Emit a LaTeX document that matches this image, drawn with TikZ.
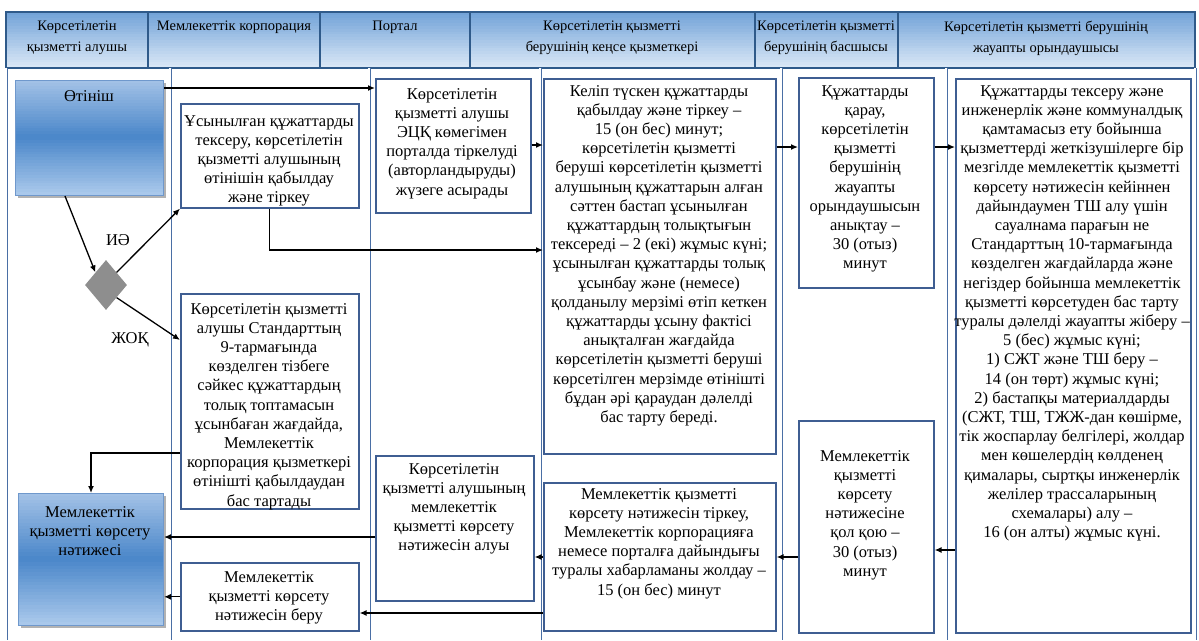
\documentclass[tikz,border=0pt]{standalone}
\usepackage{fontspec}
\setmainfont{Liberation Serif}
\usetikzlibrary{arrows.meta,shapes.geometric}

\definecolor{boxblue}{HTML}{3F5E92}
\definecolor{laneblue}{HTML}{4A6FA5}
\definecolor{headtop}{HTML}{73A3D8}
\definecolor{headbot}{HTML}{D9E7F6}
\definecolor{headline}{HTML}{2F5A8A}
\definecolor{fillTop}{HTML}{A2C1E6}
\definecolor{fillMid}{HTML}{4C88CA}
\definecolor{fillBot}{HTML}{A9C8EB}
\definecolor{fillEdge}{HTML}{6F98CC}
\definecolor{choicegray}{HTML}{8E8E8E}

% vertical colour run from #5 (top) to #6 (bottom), in 20 strips
\newcommand{\stripgrad}[6]{%
  \foreach \i in {0,...,19}{
    \pgfmathsetmacro\stripA{#2+(#4-#2)*\i/20}
    \pgfmathsetmacro\stripB{#2+(#4-#2)*(\i+1)/20+0.5}
    \pgfmathsetmacro\stripP{100-\i*5.26}
    \fill[#5!\stripP!#6] (#1,\stripA) rectangle (#3,\stripB);
  }}

\tikzset{
  box/.style={rectangle, draw=boxblue, line width=1.6pt, fill=white, anchor=north west, inner sep=0pt},
  bluebox/.style={rectangle, draw=fillEdge, line width=1pt, anchor=north west, inner sep=0pt},
  txt/.style={anchor=north, align=center, inner sep=0pt, font=\fontsize{16.5}{19.2}\selectfont},
  headtxt/.style={anchor=north, align=center, inner sep=0pt, font=\fontsize{14.5}{21}\selectfont},
  arr/.style={-{Latex[length=7pt,width=6pt]}, line width=1.3pt},
  lane/.style={draw=laneblue, line width=0.5pt, double=white, double distance=2pt},
}

\begin{document}
\begin{tikzpicture}[x=1pt, y=-1pt]
\useasboundingbox (0,0) rectangle (1199,640);
%%%%%%%%%%%%%%%%%%%%%%%%%%%%%%% header row
\stripgrad{6}{12}{1195}{68}{headtop}{headbot}
\foreach \x in {148,320,470,755,898}
  \draw[headline, line width=1.2pt] (\x,12) -- (\x,68);
\draw[headline, line width=1.5pt] (6,12) rectangle (1195,68);
\node[headtxt](hRecv) at (77,21){Көрсетілетін\\қызметті алушы};
\node[headtxt](hCorp) at (234,21){Мемлекеттік корпорация};
\node[headtxt](hPortal) at (395,21){Портал};
\node[headtxt](hOffice) at (612,21){Көрсетілетін қызметті\\берушінің кеңсе қызметкері};
\node[headtxt](hHead) at (826,21){Көрсетілетін қызметті\\берушінің басшысы};
\node[headtxt](hExec) at (1046,21){Көрсетілетін қызметті берушінің\\жауапты орындаушысы};
%%%%%%%%%%%%%%%%%%%%%%%%%%%%%%% lanes
\foreach \x in {6,170,369,540,781,946,1195}
  \draw[lane] (\x,68) -- (\x,640);

%%%%%%%%%%%%%%%%%%%%%%%%%%%%%%% receiver lane
\fill[black, opacity=0.3] (18,83) rectangle (166,198);
\stripgrad{15}{80}{163}{137}{fillTop}{fillMid}
\stripgrad{15}{137}{163}{195}{fillMid}{fillBot}
\node[bluebox, minimum width=148pt, minimum height=115pt](otinish) at (15,80){};
\node[txt](otinishT) at (89,90){Өтініш};
\node[diamond, fill=choicegray, minimum width=42pt, minimum height=50pt, inner sep=0pt](choice) at (106,285){};
\fill[black, opacity=0.3] (21,496) rectangle (166,628);
\stripgrad{18}{493}{163}{559}{fillTop}{fillMid}
\stripgrad{18}{559}{163}{625}{fillMid}{fillBot}
\node[bluebox, minimum width=145pt, minimum height=132pt](result) at (18,493){};
\node[txt](resultT) at (90,506){Мемлекеттік\\қызметті көрсету\\нәтижесі};

%%%%%%%%%%%%%%%%%%%%%%%%%%%%%%% corporation lane
\node[box, minimum width=178pt, minimum height=104pt](checkA) at (180,103){};
\node[txt](checkAT) at (269,115){Ұсынылған құжаттарды\\тексеру, көрсетілетін\\қызметті алушының\\өтінішін қабылдау\\және тіркеу};
\node[box, minimum width=178pt, minimum height=215pt](checkB) at (180,293){};
\node[txt](checkBT) at (269,303){Көрсетілетін қызметті\\алушы Стандарттың\\9-тармағында\\көзделген тізбеге\\сәйкес құжаттардың\\толық топтамасын\\ұсынбаған жағдайда,\\Мемлекеттік\\корпорация қызметкері\\өтінішті қабылдаудан\\бас тартады};
\node[box, minimum width=178pt, minimum height=68pt](beru) at (180,562){};
\node[txt](beruT) at (269,571){Мемлекеттік\\қызметті көрсету\\нәтижесін беру};

%%%%%%%%%%%%%%%%%%%%%%%%%%%%%%% portal lane
\node[box, minimum width=155pt, minimum height=134pt](portalA) at (375,78){};
\node[txt](portalAT) at (452,88){Көрсетілетін\\қызметті алушы\\ЭЦҚ көмегімен\\порталда тіркелуді\\(авторландыруды)\\жүзеге асырады};
\node[box, minimum width=158pt, minimum height=145pt](portalB) at (375,455){};
\node[txt](portalBT) at (454,463){Көрсетілетін\\қызметті алушының\\мемлекеттік\\қызметті көрсету\\нәтижесін алуы};

%%%%%%%%%%%%%%%%%%%%%%%%%%%%%%% office lane
\node[box, minimum width=232pt, minimum height=375pt](kenseA) at (543,78){};
\node[txt](kenseAT) at (659,85){Келіп түскен құжаттарды\\қабылдау және тіркеу –\\15 (он бес) минут;\\көрсетілетін қызметті\\беруші көрсетілетін қызметті\\алушының құжаттарын алған\\сәттен бастап ұсынылған\\құжаттардың толықтығын\\тексереді – 2 (екі) жұмыс күні;\\ұсынылған құжаттарды толық\\ұсынбау және (немесе)\\қолданылу мерзімі өтіп кеткен\\құжаттарды ұсыну фактісі\\анықталған жағдайда\\көрсетілетін қызметті беруші\\көрсетілген мерзімде өтінішті\\бұдан әрі қараудан дәлелді\\бас тарту береді.};
\node[box, minimum width=232pt, minimum height=148pt](kenseB) at (543,482){};
\node[txt](kenseBT) at (659,488){Мемлекеттік қызметті\\көрсету нәтижесін тіркеу,\\Мемлекеттік корпорацияға\\немесе порталға дайындығы\\туралы хабарламаны жолдау –\\15 (он бес) минут};

%%%%%%%%%%%%%%%%%%%%%%%%%%%%%%% head lane
\node[box, minimum width=135pt, minimum height=210pt](basshyA) at (798,77){};
\node[txt](basshyAT) at (865,85){Құжаттарды\\қарау,\\көрсетілетін\\қызметті\\берушінің\\жауапты\\орындаушысын\\анықтау –\\30 (отыз)\\минут};
\node[box, minimum width=135pt, minimum height=212pt](basshyB) at (798,420){};
\node[txt](basshyBT) at (865,450){Мемлекеттік\\қызметті\\көрсету\\нәтижесіне\\қол қою –\\30 (отыз)\\минут};

%%%%%%%%%%%%%%%%%%%%%%%%%%%%%%% executor lane
\node[box, minimum width=235pt, minimum height=554pt](zhauap) at (955,78){};
\node[txt](zhauapT) at (1072,85){Құжаттарды тексеру және\\инженерлік және коммуналдық\\қамтамасыз ету бойынша\\қызметтерді жеткізушілерге бір\\мезгілде мемлекеттік қызметті\\көрсету нәтижесін кейіннен\\дайындаумен ТШ алу үшін\\сауалнама парағын не\\Стандарттың 10-тармағында\\көзделген жағдайларда және\\негіздер бойынша мемлекеттік\\қызметті көрсетуден бас тарту\\туралы дәлелді жауапты жіберу –\\5 (бес) жұмыс күні;\\1) СЖТ және ТШ беру –\\14 (он төрт) жұмыс күні;\\2) бастапқы материалдарды\\(СЖТ, ТШ, ТЖЖ-дан көшірме,\\тік жоспарлау белгілері, жолдар\\мен көшелердің көлденең\\қималары, сыртқы инженерлік\\желілер трассаларының\\схемалары) алу –\\16 (он алты) жұмыс күні.};

%%%%%%%%%%%%%%%%%%%%%%%%%%%%%%% flow
\draw[arr] (otinish.east |- 0,88) -- (portalA.west |- 0,88);
\draw[arr] (portalA.east |- 0,145) -- (kenseA.west |- 0,145);
\draw[arr] (checkA.south) |- (kenseA.west |- 0,250);
\draw[arr] (kenseA.east |- 0,147) -- (basshyA.west |- 0,147);
\draw[arr] (basshyA.east |- 0,147) -- (zhauap.west |- 0,147);
\draw[arr] (otinish.south -| 65,0) -- (choice.north west);
\draw[arr] (choice.north east) -- (checkA.south west);
\node[txt, anchor=center](yesT) at (118,240){ИӘ};
\draw[arr] (choice.south east) -- (checkB.west |- 0,340);
\node[txt, anchor=center](noT) at (130,340){ЖОҚ};
\draw[arr] (checkB.west |- 0,453) -| (result.north);
% results go back to the receiver
\draw[arr] (zhauap.west |- 0,550) -- (basshyB.east |- 0,550);
\draw[arr] (basshyB.west |- 0,557) -- (kenseB.east |- 0,557);
\draw[arr] (kenseB.west |- 0,557) -- (portalB.east |- 0,557);
\draw[arr] (kenseB.west |- 0,613) -- (beru.east |- 0,613);
\draw[arr] (portalB.west |- 0,537) -- (result.east |- 0,537);
\draw[arr] (beru.west) -- (result.east |- beru.west);
\end{tikzpicture}
\end{document}
